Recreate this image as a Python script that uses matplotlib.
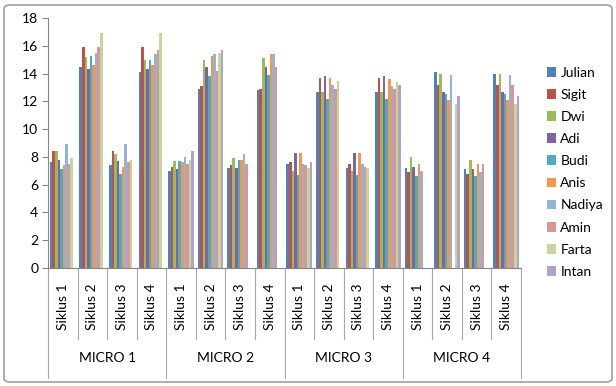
import numpy as np
import matplotlib
matplotlib.use("Agg")
import matplotlib.pyplot as plt
from matplotlib.patches import FancyBboxPatch
from matplotlib.transforms import blended_transform_factory

plt.rcParams["font.family"] = ["Lato", "DejaVu Sans"]

micro = ["MICRO 1", "MICRO 2", "MICRO 3", "MICRO 4"]
siklus = ["Siklus 1", "Siklus 2", "Siklus 3", "Siklus 4"]
names = ["Julian", "Sigit", "Dwi", "Adi", "Budi", "Anis", "Nadiya", "Amin",
         "Farta", "Intan"]
colors = ["#4F81BD", "#C0504D", "#9BBB59", "#8064A2", "#4BACC6", "#F79646",
          "#95B3D7", "#D99694", "#C3D69B", "#B3A2C7"]

nan = np.nan
# one list per category (MICRO x Siklus), values in series order
scores = [
    [7.6, 8.4, 8.4, 7.8, 7.1, 7.4, 8.9, 7.5, 7.9, nan],
    [14.5, 15.9, 15.2, 14.3, 15.3, 14.6, 15.5, 15.9, 16.9, nan],
    [7.4, 8.4, 8.2, 7.7, 6.8, 7.3, 8.9, 7.6, 7.8, nan],
    [14.1, 15.9, 15.0, 14.3, 15.0, 14.6, 15.4, 15.7, 16.9, nan],
    [7.0, 7.3, 7.7, 7.1, 7.7, 7.6, 8.0, 7.5, 7.8, 8.4],
    [12.9, 13.1, 15.0, 14.5, 13.8, 15.3, 15.4, 14.2, 15.5, 15.7],
    [7.2, 7.4, 7.9, 7.2, 7.8, 7.8, 8.2, 7.5, nan, nan],
    [12.8, 12.9, 15.1, 14.5, 13.9, 15.4, 15.4, 14.5, nan, nan],
    [7.5, 7.6, 7.0, 8.3, 6.7, 8.3, 7.5, 7.4, 7.2, 7.6],
    [12.7, 13.7, 12.7, 13.8, 12.2, 13.7, 13.2, 12.9, 13.5, nan],
    [7.2, 7.5, 7.0, 8.3, 6.7, 8.3, 7.5, 7.3, 7.2, nan],
    [12.7, 13.7, 12.7, 13.8, 12.2, 13.6, 13.1, 12.9, 13.4, 13.2],
    [7.2, 6.9, 8.0, 7.3, 6.6, 7.5, 7.0, nan, nan, nan],
    [14.1, 13.2, 14.0, 12.7, 12.5, 12.1, 13.9, nan, 11.8, 12.4],
    [7.1, 6.8, 7.8, 7.1, 6.6, 7.5, 6.9, 7.5, nan, nan],
    [14.0, 13.2, 14.0, 12.7, 12.5, 12.1, 13.9, 13.2, 11.8, 12.4],
]

data = np.array(scores)
ncat = data.shape[0]
x = np.arange(ncat)
w = 1 / 11.5

fig = plt.figure(figsize=(6.16, 3.86), dpi=100)
ax = fig.add_axes([48 / 616, 1 - 268 / 386, (521 - 48) / 616, 250 / 386])

for i, (name, c) in enumerate(zip(names, colors)):
    ax.bar(x + (i - 4.5) * w, data[:, i], width=w, color=c, label=name,
           linewidth=0)

ax.set_xlim(-0.5, ncat - 0.5)
ax.set_ylim(0, 18)
ax.set_yticks(np.arange(0, 19, 2))
ax.tick_params(axis="y", labelsize=10, length=4, color="#868686", pad=3)
ax.set_xticks([])
for s in ("top", "right"):
    ax.spines[s].set_visible(False)
for s in ("left", "bottom"):
    ax.spines[s].set_color("#868686")

# multi-level category axis
tr = blended_transform_factory(ax.transData, ax.transAxes)
for k in range(ncat + 1):
    low = -0.44 if k % 4 == 0 else -0.285
    ax.plot([k - 0.5, k - 0.5], [0, low], color="#a6a6a6", lw=0.8,
            transform=tr, clip_on=False)
for k in range(ncat):
    ax.text(k, -0.06, siklus[k % 4], rotation=90, ha="center", va="top",
            fontsize=10, transform=tr)
for m, label in enumerate(micro):
    ax.text(m * 4 + 1.5, -0.36, label, ha="center", va="center",
            fontsize=10, transform=tr)

ax.legend(loc="upper left", bbox_to_anchor=(541 / 616, 1 - 61 / 386),
          bbox_transform=fig.transFigure, frameon=False, fontsize=10,
          handlelength=0.7, handleheight=0.7, handletextpad=0.3,
          labelspacing=0.73, borderaxespad=0)

fig.patches.append(FancyBboxPatch((4 / 616, 4 / 386), 608 / 616, 377 / 386,
                                  boxstyle="round,pad=0,rounding_size=0.01",
                                  transform=fig.transFigure, fill=False,
                                  edgecolor="#a0a0a0", lw=1.2))

fig.savefig("out.png", dpi=100, facecolor="white")
